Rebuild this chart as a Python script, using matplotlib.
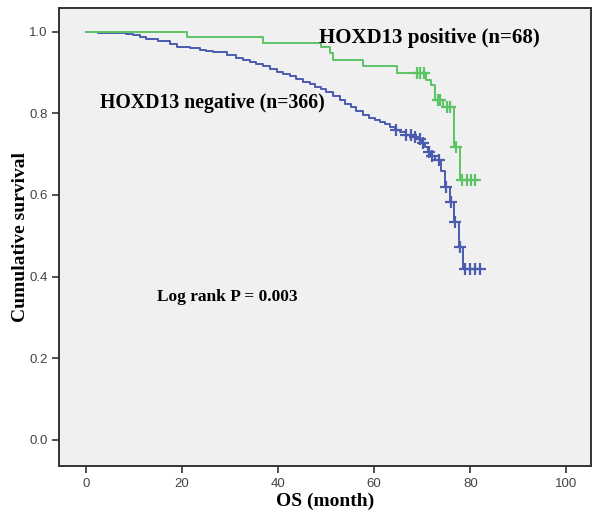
import matplotlib
matplotlib.use('Agg')
import matplotlib.pyplot as plt
import numpy as np

# Kaplan-Meier steps (time in months, survival after the drop)
neg_t = [0, 2.5, 8.4, 9.8, 11.2, 12.6, 15.0, 17.5, 18.9, 21.6, 23.7, 25.1, 26.5, 29.3,
         31.3, 32.7, 34.1, 35.5, 36.9, 38.3, 39.7, 41.0, 42.4, 43.8, 45.2, 46.6, 47.7,
         48.9, 50.0, 51.4, 52.8, 54.0, 55.2, 56.3, 57.7, 59.0, 60.1, 61.1, 62.2, 63.2,
         64.3, 65.3, 66.6, 67.8, 69.1, 69.8, 70.5, 71.2, 71.9, 72.6, 73.9, 74.8, 75.7,
         76.7, 77.6, 78.5]
neg_s = [1.0, 0.998, 0.995, 0.992, 0.987, 0.982, 0.977, 0.971, 0.964, 0.961, 0.956,
         0.953, 0.950, 0.944, 0.937, 0.932, 0.926, 0.921, 0.917, 0.91, 0.902, 0.896,
         0.891, 0.884, 0.878, 0.873, 0.866, 0.859, 0.853, 0.842, 0.832, 0.824, 0.816,
         0.806, 0.797, 0.789, 0.783, 0.779, 0.773, 0.767, 0.76, 0.754, 0.747, 0.743,
         0.738, 0.727, 0.717, 0.706, 0.696, 0.685, 0.66, 0.619, 0.582, 0.533, 0.472,
         0.419]
neg_end = 82.2
neg_cens = [64.5, 66.6, 67.6, 68.5, 69.5, 70.1, 71.4, 72.0, 73.4, 75.0, 75.9, 76.9,
            77.9, 78.8, 79.9, 81.0, 82.1]

pos_t = [0, 21.0, 36.9, 49.0, 50.7, 51.4, 57.7, 64.8, 70.8, 71.9, 72.6, 74.3, 76.7, 77.8]
pos_s = [1.0, 0.987, 0.973, 0.962, 0.949, 0.932, 0.916, 0.9, 0.881, 0.869, 0.832,
         0.816, 0.717, 0.636]
pos_end = 81.5
pos_cens = [69.0, 69.6, 70.3, 73.2, 73.7, 75.2, 75.8, 77.0, 78.3, 79.2, 80.1, 81.0]

blue = '#4a5bb0'
green = '#5cc465'


def km(ax, t, s, end, cens, color):
    xs = list(t) + [end]
    ys = list(s) + [s[-1]]
    ax.step(xs, ys, where='post', color=color, lw=1.4)
    idx = np.searchsorted(t, cens, side='right') - 1
    ax.plot(cens, np.array(s)[idx], ls='none', marker='+', ms=8, mew=1.6, color=color)


fig = plt.figure(figsize=(6, 5.13), dpi=100)
ax = fig.add_axes([0.099, 0.092, 0.886, 0.892])
ax.set_facecolor('#f0f0f0')

km(ax, neg_t, neg_s, neg_end, neg_cens, blue)
km(ax, pos_t, pos_s, pos_end, pos_cens, green)

ax.set_xlim(-5.5, 105.1)
ax.set_ylim(-0.064, 1.058)
ax.set_xticks([0, 20, 40, 60, 80, 100])
ax.set_yticks([0.0, 0.2, 0.4, 0.6, 0.8, 1.0])
ax.set_yticklabels(['0.0', '0.2', '0.4', '0.6', '0.8', '1.0'])
ax.tick_params(direction='out', length=5, width=1.2, colors='#333333',
               labelsize=9.5, labelcolor='#444444')
for lab in ax.get_xticklabels() + ax.get_yticklabels():
    lab.set_family('Liberation Sans')
for sp in ax.spines.values():
    sp.set_linewidth(1.4)
    sp.set_color('#333333')

serif = {'family': 'Liberation Serif', 'weight': 'bold'}
ax.set_xlabel('OS (month)', fontsize=14, labelpad=2, **serif)
ax.set_ylabel('Cumulative survival', fontsize=14, labelpad=0, **serif)

ax.text(48.6, 0.985, 'HOXD13 positive (n=68)', fontsize=15, va='center', **serif)
ax.text(2.9, 0.825, 'HOXD13 negative (n=366)', fontsize=14.2, va='center', **serif)
ax.text(14.8, 0.35, 'Log rank P = 0.003', fontsize=12.5, va='center', **serif)

fig.savefig('out.png', dpi=100)
